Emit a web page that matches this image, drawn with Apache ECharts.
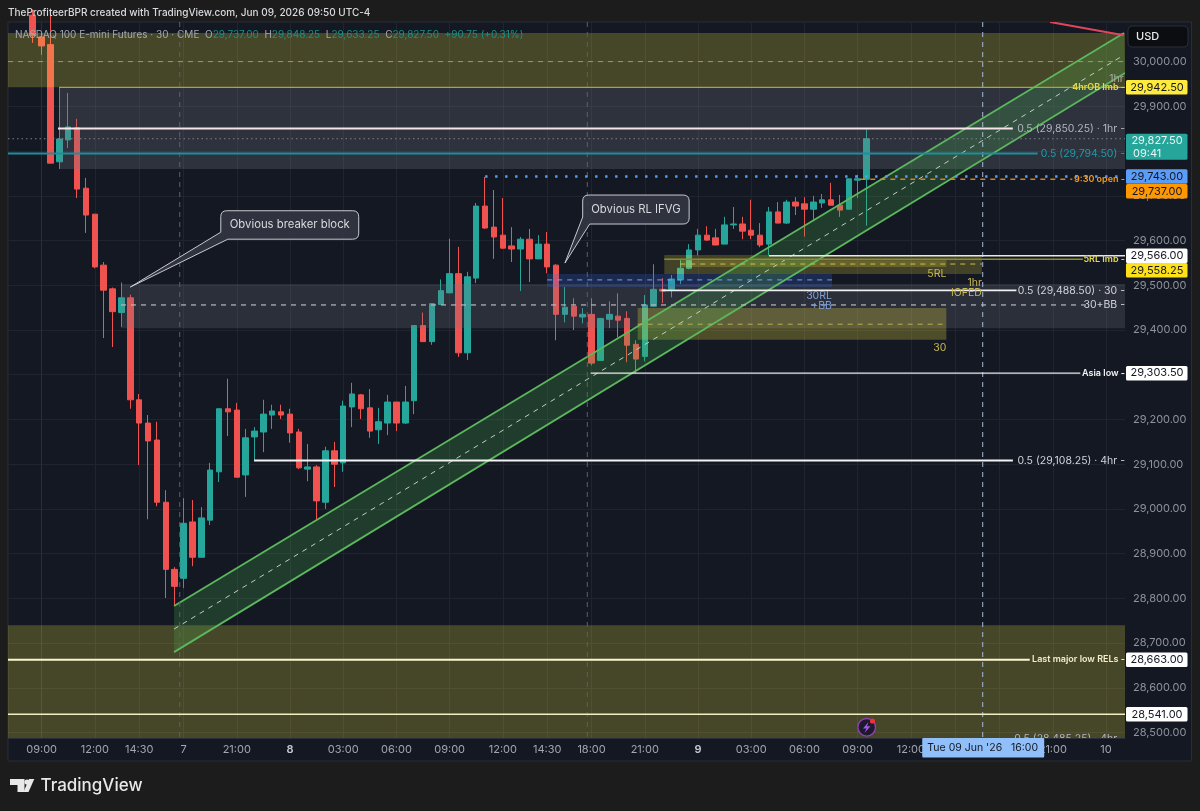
<!DOCTYPE html>
<html><head><meta charset="utf-8">
<style>html,body{margin:0;padding:0;background:#1c1c1c}#c{width:1200px;height:811px}</style>
<script src="https://cdn.jsdelivr.net/npm/echarts@6/dist/echarts.min.js"></script>
</head><body><div id="c"></div>
<script>
// ---------- candles (bar number -1 … 93, 30-minute bars) ----------
const opens=[30104,30055,30038,29776,29825,29852,29717,29659,29545,29492,29439,29472,29244,29192,29154,29015,28865,28845,28971,28892,28975,29083,29224,29221,29076,29161,29172,29210,29217,29212,29172,29089,29094,29015,29130,29103,29228,29255,29226,29177,29192,29239,29192,29242,29410,29374,29457,29483,29526,29349,29516,29677,29630,29612,29588,29581,29603,29559,29592,29545,29435,29453,29429,29435,29332,29424,29431,29426,29368,29341,29453,29491,29491,29512,29538,29579,29612,29606,29592,29635,29637,29623,29612,29592,29664,29639,29686,29682,29670,29684,29691,29679,29670,29735,29737];
const closes=[30058,30035,29773,29827,29854,29715,29657,29541,29489,29441,29472,29244,29192,29152,29015,28865,28827,28968,28892,28980,29087,29224,29217,29071,29159,29174,29212,29219,29210,29170,29092,29094,29018,29130,29100,29230,29257,29224,29174,29195,29239,29192,29239,29410,29374,29459,29488,29526,29349,29519,29677,29628,29608,29583,29581,29603,29559,29592,29541,29435,29451,29431,29435,29326,29426,29435,29422,29366,29335,29456,29491,29487,29514,29538,29579,29612,29601,29590,29635,29637,29621,29612,29590,29664,29639,29686,29677,29670,29686,29691,29679,29668,29738,29738,29827.5];
const lows=[30042,30015,29773,29760,29807,29695,29617,29538,29382,29362,29407,29224,29098,28977,29006,28801,28785,28823,28872,28892,28964,29060,29163,29071,29027,29109,29127,29179,29201,29148,29089,29062,28977,29000,29049,29083,29183,29201,29159,29145,29165,29174,29190,29212,29374,29367,29457,29483,29340,29333,29505,29626,29559,29581,29552,29487,29507,29559,29527,29377,29417,29400,29415,29321,29332,29404,29384,29328,29303,29330,29451,29460,29473,29503,29536,29567,29599,29590,29592,29626,29603,29603,29585,29567,29639,29637,29657,29609,29646,29673,29679,29653,29670,29695,29633.25];
const highs=[30116,30064,30105,29943,29930,29872,29740,29659,29552,29495,29506,29479,29257,29210,29195,29042,28870,29024,29020,29004,29103,29224,29291,29237,29179,29183,29244,29233,29233,29224,29179,29145,29098,29139,29150,29242,29282,29257,29268,29226,29255,29239,29275,29410,29439,29459,29513,29604,29586,29530,29684,29742,29713,29695,29630,29608,29626,29612,29619,29547,29496,29471,29449,29471,29426,29464,29482,29442,29377,29478,29547,29516,29523,29556,29592,29626,29632,29626,29653,29675,29653,29691,29639,29675,29686,29691,29697,29697,29700,29704,29729,29702,29738,29747,29848.25];
const firstBar=-1;

// ---------- axes ----------
const xMin=-3.79, xMax=122.14, yMin=28488, yMax=30088.5;
const xTickBars=[0,6,11,16,22,28,34,40,46,52,57,62,68,74,80,86,92,98,103,108,114,120];
const xTickLabels=['09:00','12:00','14:30','7','21:00','8','03:00','06:00','09:00','12:00','14:30','18:00','21:00','9','03:00','06:00','09:00','12:00','14:30','18:00','21:00','10'];
const yTicks=[28500,28600,28700,28800,28900,29000,29100,29200,29300,29400,29500,29600,29700,29800,29900,30000];

// ---------- zones: start bar, end bar, top price, bottom price ----------
const zoneStart=[xMin,1.96,8.95,xMin,70.2,72,67.2,57];
const zoneEnd=[xMax,xMax,xMax,xMax,106,102,102,89.1];
const zoneTop=[30064,29942.5,29503,28740,29567.6,29556,29449,29525];
const zoneBottom=[29942.5,29760,29404,yMin,29525,29541,29378,29496];

// ---------- price levels ----------
const levelPrice=[30000,29942.5,29850.25,29827.5,29794.5,29743,29737,29566,29558.25,29547.5,29512,29488.5,29456,29413,29303.5,29108.25,28663,28541];
const levelStart=[xMin,1.96,1.85,xMin,xMin,50,92.3,82,70.2,72,57,69.9,8.95,67.2,61.9,23.95,xMin,xMin];
const levelEnd=[xMax,xMax,109.5,xMax,112.3,xMax,116.2,xMax,117.4,106,89.1,109.9,117.9,102,117.1,109.5,111.4,xMax];

// ---------- rising channel and falling trend line (bar, price) ----------
const channelUpper=[[14.93,28783],[122.03,30063.8]];
const channelMiddle=[[14.93,28731.6],[122.03,30014.7]];
const channelLower=[[14.93,28680],[122.14,29974.4]];
const redLine=[[113.7,30088.5],[122,30059]];
const sessionBreaks=[15.57,61.52,106.1];

// ---------- text on the chart ----------
const noteText=['0.5 (28,485.25) · 4hr -','1hr','4hrOB Imb -','0.5 (29,850.25) · 1hr -','0.5 (29,794.50) -','9:30 open -','5RL Imb -','0.5 (29,488.50) · 30 -','30+BB -','Asia low -','0.5 (29,108.25) · 4hr -','Last major low RELs -','5RL','30','1hr','IOFED','30RL','+BB'];
const noteBar=[xMax,122,xMax,xMax,xMax,xMax,xMax,xMax,xMax,xMax,xMax,xMax,102,102,106,106,89.1,89.1];
const notePrice=[28485.25,29961,29942.5,29850.25,29794.5,29737,29558.25,29488.5,29456,29303.5,29108.25,28663,29525,29360,29505,29483,29476,29454];

const calloutText=['Obvious breaker block','Obvious RL IFVG'];
const calloutBox=[[20.2,35.75,29666.6,29603],[61,73,29701.7,29636.9]];
const calloutTip=[[10,29496],[59,29549.7]];

// ---------- price tags ----------
const tagPrice=[29942.5,29827.5,29743,29737,29566,29558.25,29303.5,28663,28541];
const tagText=['29,942.50','29,827.50','29,743.00','29,737.00','29,566.00','29,558.25','29,303.50','28,663.00','28,541.00'];

// ---------- styles ----------
const F='Inter, "Noto Sans", sans-serif';
const UP='#26a69a', DN='#f0524f';
const zoneFill=['rgba(255,235,59,.22)','rgba(120,123,134,.27)','rgba(120,123,134,.24)','rgba(255,235,59,.22)','rgba(255,235,59,.20)','rgba(255,235,59,.20)','rgba(255,235,59,.25)','rgba(60,110,240,.22)'];
const levelStyle=[
 ['#a39c55',1,[5,5]],['#a8a53a',1.2,null],['#f7e3ea',2,null],['#7d808a',1,[1.5,3]],['#1d8ea0',1.8,null],
 ['#5b9cf6',2.4,[2.4,7.6]],['#e08a10',1.4,[5,5]],['#e8e8e8',1.6,null],['#8f8d2a',1.4,null],['#cdbf4a',1,[5,5]],
 ['#7f9fe0',1,[5,5]],['#eeeeee',1.6,null],['#b8bac0',1.2,[5,5]],['#b5ad50',1,[5,5]],['#e8e8e8',1.2,null],
 ['#f2f2f2',1.8,null],['#fbf6cc',2,null],['#f3eec4',1.5,null]];
const noteStyle=[
 ['#b2b5be','10.5px'],['#a8a8a0','10.5px'],['#e3d94a','600 9px'],['#b2b5be','10.5px'],['#1f9bab','10.5px'],['#f59a1b','600 9px'],['#e3d94a','600 9px'],
 ['#d1d4dc','10.5px'],['#d1d4dc','10.5px'],['#f2f3f5','600 9px'],['#d1d4dc','10.5px'],['#f5efc8','600 9px'],
 ['#c9b84d','10.5px'],['#c9b84d','10.5px'],['#c9b84d','10.5px'],['#c9b84d','10.5px'],['#7d9edb','10.5px'],['#7d9edb','10.5px']];
const tagFill=['#ffeb3b','#26a69a','#5b9cf6','#ff9800','#ffffff','#ffe11a','#ffffff','#ffffff','#ffffff'];
const tagInk=['#131722','#e6f5f3','#131722','#131722','#131722','#131722','#131722','#131722','#131722'];
const tagShift=[0,8,0,12,0,11,0,0,0];

function lineEl(a,b,stroke,width,dash){return {type:'line',shape:{x1:a[0],y1:a[1],x2:b[0],y2:b[1]},style:{stroke:stroke,lineWidth:width,lineDash:dash||null,fill:null}};}
function txt(x,y,text,fill,font,align){return {type:'text',style:{x:x,y:y,text:text,fill:fill,font:font,textAlign:align||'right',textVerticalAlign:'middle',align:align||'right',verticalAlign:'middle'}};}
function fontOf(s){return s+' '+F;}
function idxData(a){return a.map(function(_,i){return [i];});}
const base={type:'custom',silent:true,clip:true,encode:{x:-1,y:-1}};

const chart=echarts.init(document.getElementById('c'),null,{renderer:'canvas'});
const logoY=779;
chart.setOption({
 animation:false,backgroundColor:'#1c1c1c',
 grid:{left:8,top:22,width:1117,height:716,containLabel:false},
 xAxis:{type:'value',min:xMin,max:xMax,position:'bottom',z:1,
  axisLine:{show:true,lineStyle:{color:'#2a2e39',width:1}},
  axisTick:{show:false,customValues:xTickBars},
  splitLine:{show:true,lineStyle:{color:'#20242e',width:1}},
  axisLabel:{show:true,customValues:xTickBars,color:'#a3a6af',fontFamily:F,fontSize:11,margin:6,hideOverlap:false,showMinLabel:true,showMaxLabel:true,
   formatter:function(v){const s=xTickLabels[xTickBars.indexOf(v)]||'';return (s==='8'||s==='9')?'{d|'+s+'}':s;},
   rich:{d:{color:'#c8cad0',fontFamily:F,fontSize:11,fontWeight:600}}}},
 yAxis:{type:'value',min:yMin,max:yMax,position:'right',z:1,
  axisLine:{show:true,lineStyle:{color:'#2a2e39',width:1}},
  axisTick:{show:false,customValues:yTicks},
  splitLine:{show:true,lineStyle:{color:'#20242e',width:1}},
  axisLabel:{show:true,customValues:yTicks,color:'#8f929b',fontFamily:F,fontSize:11,margin:8,padding:[0,0,4,0],hideOverlap:false,showMinLabel:true,showMaxLabel:true,
   formatter:function(v){return v.toLocaleString('en-US',{minimumFractionDigits:2,maximumFractionDigits:2});}}},
 graphic:{elements:[
  {type:'rect',z:-10,silent:true,shape:{x:8,y:22,width:1183.5,height:739},style:{fill:'#131823',stroke:'#2a2d34',lineWidth:1}},
  {type:'text',z:100,silent:true,x:8,y:8,style:{text:'TheProfiteerBPR created with TradingView.com, Jun 09, 2026 09:50 UTC-4',fill:'#d8dade',font:'500 10px '+F}},
  {type:'text',z:100,silent:true,x:15,y:30,style:{
    text:'{a|NASDAQ 100 E-mini Futures · 30 · CME  O}{v|29,737.00}{a|  H}{v|29,848.25}{a|  L}{v|29,633.25}{a|  C}{v|29,827.50}{v|  +90.75 (+0.31%)}',
    rich:{a:{fill:'#a5a8b0',font:'10px '+F},v:{fill:'#1f8f85',font:'10px '+F}}}},
  {type:'rect',z:100,silent:true,shape:{x:1128,y:26,width:60,height:21,r:4},style:{fill:'#0c0d10',stroke:'#2a2e39',lineWidth:1}},
  {type:'text',z:101,silent:true,x:1136,y:31,style:{text:'USD',fill:'#e8e9ec',font:'500 11px '+F}},
  // TradingView logo
  {type:'polygon',silent:true,shape:{points:[[10,logoY],[24.5,logoY],[24.5,logoY+13],[17.5,logoY+13],[17.5,logoY+6],[10,logoY+6]]},style:{fill:'#e8e8e8'}},
  {type:'circle',silent:true,shape:{cx:27,cy:logoY+3,r:2.6},style:{fill:'#e8e8e8'}},
  {type:'polygon',silent:true,shape:{points:[[29,logoY],[34.3,logoY],[28.5,logoY+13],[23.5,logoY+13]]},style:{fill:'#e8e8e8'}},
  {type:'text',silent:true,x:40.5,y:logoY-2,style:{text:'TradingView',fill:'#e8e8e8',font:'500 17px '+F}},
  // alert icon
  {type:'circle',z:100,silent:true,shape:{cx:866.7,cy:727.3,r:8.8},style:{fill:'#1c1a2b',stroke:'#8e3fb5',lineWidth:1.4}},
  {type:'polygon',z:101,silent:true,shape:{points:[[868.5,722],[863,728.5],[866.5,728.5],[864.5,733],[870.5,726.3],[867,726.3]]},style:{fill:'#a855f0'}},
  {type:'circle',z:102,silent:true,shape:{cx:872.5,cy:721,r:2.6},style:{fill:'#e8323c'}}
 ]},
 series:[
  {type:'candlestick',z:2,silent:true,barWidth:6,encode:{x:0,y:[1,2,3,4]},clip:true,
   itemStyle:{color:UP,color0:DN,borderColor:UP,borderColor0:DN,borderWidth:1},
   data:opens.map(function(o,k){return [k+firstBar,o,closes[k],lows[k],highs[k]];})},
  Object.assign({},base,{z:3,data:idxData(zoneStart),renderItem:function(p,api){
    const i=p.dataIndex,a=api.coord([zoneStart[i],zoneTop[i]]),b=api.coord([zoneEnd[i],zoneBottom[i]]);
    return {type:'rect',shape:{x:a[0],y:a[1],width:b[0]-a[0],height:b[1]-a[1]},style:{fill:zoneFill[i]}};}}),
  Object.assign({},base,{z:4,data:[[0]],renderItem:function(p,api){
    const u=channelUpper.map(api.coord),m=channelMiddle.map(api.coord),l=channelLower.map(api.coord),r=redLine.map(api.coord);
    return {type:'group',children:[
      {type:'polygon',shape:{points:[u[0],u[1],l[1],l[0]]},style:{fill:'rgba(76,175,80,.24)'}},
      lineEl(u[0],u[1],'#5cb85c',1.8),lineEl(l[0],l[1],'#5cb85c',1.8),lineEl(m[0],m[1],'#c3cbc3',1,[5,5]),
      lineEl(r[0],r[1],'#e0455a',2)]};}}),
  Object.assign({},base,{z:5,data:idxData(sessionBreaks),renderItem:function(p,api){
    const i=p.dataIndex,a=api.coord([sessionBreaks[i],yMax]),b=api.coord([sessionBreaks[i],yMin]);
    return lineEl(a,b,i===2?'#a9bcd8':'#5d606a',1,[5,5]);}}),
  Object.assign({},base,{z:6,data:idxData(levelPrice),renderItem:function(p,api){
    const i=p.dataIndex,s=levelStyle[i];
    return lineEl(api.coord([levelStart[i],levelPrice[i]]),api.coord([levelEnd[i],levelPrice[i]]),s[0],s[1],s[2]);}}),
  Object.assign({},base,{z:7,data:idxData(noteText),renderItem:function(p,api){
    const i=p.dataIndex,c=api.coord([noteBar[i],notePrice[i]]);
    return txt(c[0],c[1],noteText[i],noteStyle[i][0],fontOf(noteStyle[i][1]));}}),
  Object.assign({},base,{z:8,clip:false,data:idxData(calloutText),renderItem:function(p,api){
    const i=p.dataIndex,b=calloutBox[i],t=api.coord(calloutTip[i]),a=api.coord([b[0],b[2]]),c=api.coord([b[1],b[3]]),r=6;
    const x0=a[0],y0=a[1],x1=c[0],y1=c[1];
    const d='M'+(x0+r)+' '+y0+'H'+(x1-r)+'Q'+x1+' '+y0+' '+x1+' '+(y0+r)+'V'+(y1-r)+'Q'+x1+' '+y1+' '+(x1-r)+' '+y1+'H'+(x0+7)+'L'+t[0]+' '+t[1]+'L'+x0+' '+(y1-7)+'V'+(y0+r)+'Q'+x0+' '+y0+' '+(x0+r)+' '+y0+'Z';
    return {type:'group',children:[
      {type:'path',shape:{pathData:d},style:{fill:'rgba(50,53,66,.92)',stroke:'#c8cad0',lineWidth:1}},
      txt((x0+x1)/2,(y0+y1)/2,calloutText[i],'#d8dade','11.3px '+F,'center')]};}}),
  Object.assign({},base,{z:9,clip:false,data:idxData(tagPrice),renderItem:function(p,api){
    const i=p.dataIndex,c=api.coord([xMax,tagPrice[i]]),two=i===1,h=two?26:14.5,cy=c[1]+tagShift[i];
    const kids=[{type:'rect',shape:{x:1126,y:cy-h/2,width:61.5,height:h,r:1.5},style:{fill:tagFill[i]}},
      txt(1157,two?cy-6:cy,tagText[i],tagInk[i],'11px '+F,'center')];
    if(two)kids.push(txt(1133,cy+6.5,'09:41',tagInk[i],'11px '+F,'left'));
    return {type:'group',children:kids};}}),
  Object.assign({},base,{z:10,clip:false,data:[[0]],renderItem:function(p,api){
    const c=api.coord([sessionBreaks[2],yMin]);
    return {type:'group',children:[
      {type:'rect',shape:{x:c[0]-60.5,y:738,width:122,height:19.5,r:1},style:{fill:'#90bff9'}},
      txt(c[0],748,"Tue 09 Jun '26   16:00",'#131722','10.5px '+F,'center')]};}})
 ]
});
</script></body></html>
